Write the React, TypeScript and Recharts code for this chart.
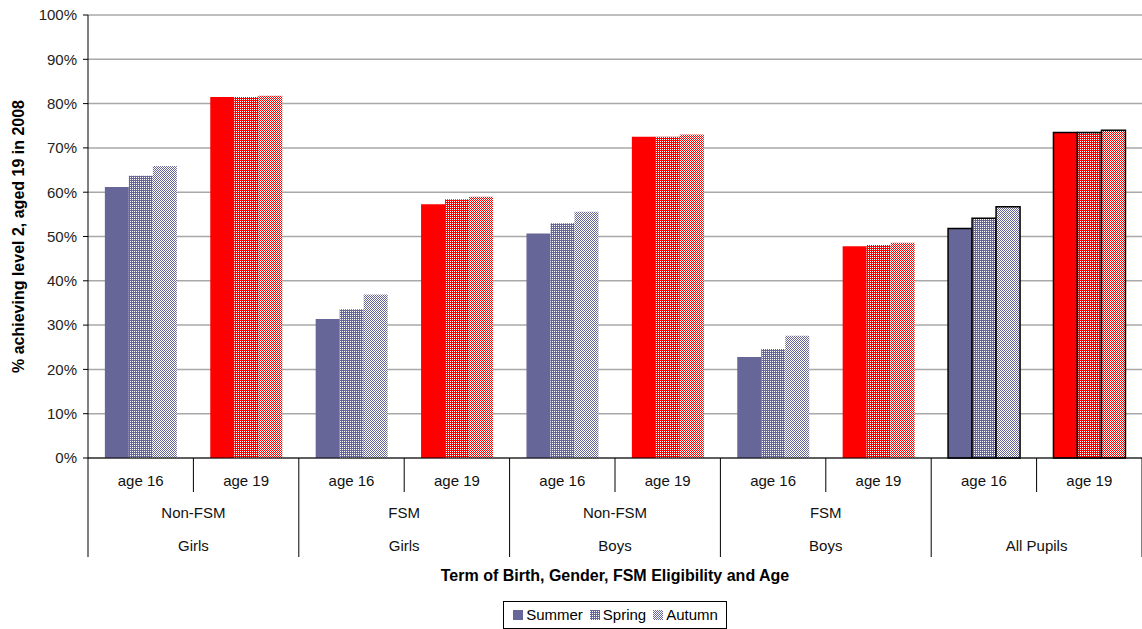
import React from "react";
import { Bar, BarChart, CartesianGrid, Cell, Legend, XAxis, YAxis } from "recharts";

const ages = ["age 16", "age 19", "age 16", "age 19", "age 16", "age 19", "age 16", "age 19", "age 16", "age 19"];
const fsm = ["Non-FSM", "Non-FSM", "FSM", "FSM", "Non-FSM", "Non-FSM", "FSM", "FSM", "", ""];
const gender = ["Girls", "Girls", "Girls", "Girls", "Boys", "Boys", "Boys", "Boys", "All Pupils", "All Pupils"];

const summer = [61.2, 81.5, 31.4, 57.3, 50.7, 72.5, 22.8, 47.8, 51.8, 73.5];
const spring = [63.7, 81.5, 33.6, 58.4, 53.0, 72.5, 24.6, 48.1, 54.1, 73.5];
const autumn = [65.9, 81.8, 36.9, 59.0, 55.6, 73.0, 27.6, 48.6, 56.7, 74.0];

const yTicks = [0, 10, 20, 30, 40, 50, 60, 70, 80, 90, 100];

const data = ages.map((a, i) => ({
  key: `${gender[i]}|${fsm[i]}|${a}`,
  summer: summer[i],
  spring: spring[i],
  autumn: autumn[i],
}));

const FONT = "'Liberation Sans', Arial, sans-serif";
const BLUE = "#666699";
const RED = "#ff0000";

// fill ids per series, [age16, age19]
const fills = {
  summer: [BLUE, RED],
  spring: ["url(#springBlue)", "url(#springRed)"],
  autumn: ["url(#autumnBlue)", "url(#autumnRed)"],
};

const GroupTick = (props: any) => {
  const { x, y, payload, index } = props;
  const half = payload && payload.offset ? payload.offset : 52.7;
  const odd = index % 2 === 1;
  return (
    <g>
      {index === 0 && <line x1={x - half} x2={x - half} y1={y} y2={y + 99} stroke="#000" />}
      <line x1={x + half} x2={x + half} y1={y} y2={y + (odd ? 99 : 34)} stroke="#000" />
      <text x={x} y={y + 28} textAnchor="middle" fontSize={15} fill="#111">
        {ages[index]}
      </text>
      {odd && (
        <>
          <text x={x - half} y={y + 60} textAnchor="middle" fontSize={15} fill="#111">
            {fsm[index]}
          </text>
          <text x={x - half} y={y + 93} textAnchor="middle" fontSize={15} fill="#111">
            {gender[index]}
          </text>
        </>
      )}
    </g>
  );
};

const Swatch = ({ fill }: { fill: string }) => (
  <svg width={10} height={10} style={{ marginRight: 3 }}>
    <rect x={0} y={0} width={10} height={10} fill={fill} />
  </svg>
);

const LegendBox = () => (
  <div style={{ display: "flex", justifyContent: "center", marginLeft: 88 }}>
    <div
      style={{
        display: "flex",
        alignItems: "center",
        border: "1px solid #000",
        padding: "3px 8px 3px 9px",
        fontSize: 15,
        fontFamily: FONT,
        color: "#000",
        lineHeight: "20px",
      }}
    >
      <Swatch fill={BLUE} />
      <span style={{ marginRight: 7 }}>Summer</span>
      <Swatch fill="url(#springBlue)" />
      <span style={{ marginRight: 7 }}>Spring</span>
      <Swatch fill="url(#autumnBlue)" />
      <span>Autumn</span>
    </div>
  </div>
);

const App = () => {
  return (
    <div style={{ position: "absolute", left: 0, top: 0, fontFamily: FONT, background: "#fff" }}>
      <BarChart
        width={1142}
        height={629}
        data={data}
        margin={{ top: 15, right: 0, left: 0, bottom: 0 }}
        barCategoryGap="16%"
        barGap={0}
      >
        <defs>
          <pattern id="springBlue" width="4" height="4" patternUnits="userSpaceOnUse">
            <rect width="4" height="4" fill={BLUE} />
            <rect x="0" y="1" width="1" height="1" fill="#fff" />
            <rect x="2" y="1" width="1" height="1" fill="#fff" />
            <rect x="0" y="3" width="1" height="1" fill="#fff" />
            <rect x="2" y="3" width="1" height="1" fill="#fff" />
          </pattern>
          <pattern id="springRed" width="4" height="4" patternUnits="userSpaceOnUse">
            <rect width="4" height="4" fill={RED} />
            <rect x="0" y="1" width="1" height="1" fill="#fff" />
            <rect x="2" y="1" width="1" height="1" fill="#fff" />
            <rect x="0" y="3" width="1" height="1" fill="#fff" />
            <rect x="2" y="3" width="1" height="1" fill="#fff" />
          </pattern>
          <pattern id="autumnBlue" width="2" height="2" patternUnits="userSpaceOnUse">
            <rect width="2" height="2" fill="#fff" />
            <rect x="0" y="0" width="1" height="1" fill={BLUE} />
            <rect x="1" y="1" width="1" height="1" fill={BLUE} />
          </pattern>
          <pattern id="autumnRed" width="2" height="2" patternUnits="userSpaceOnUse">
            <rect width="2" height="2" fill="#fff" />
            <rect x="0" y="0" width="1" height="1" fill={RED} />
            <rect x="1" y="1" width="1" height="1" fill={RED} />
          </pattern>
        </defs>
        <CartesianGrid vertical={false} stroke="#a8a8a8" strokeWidth={1.5} />
        <XAxis
          dataKey="key"
          interval={0}
          height={143}
          tickSize={0}
          tickMargin={0}
          stroke="#000"
          tick={<GroupTick />}
          label={{
            value: "Term of Birth, Gender, FSM Eligibility and Age",
            position: "insideBottom",
            offset: 20,
            style: { fontWeight: "bold", fontSize: 16, fill: "#000", fontFamily: FONT },
          }}
        />
        <YAxis
          width={88}
          domain={[0, 100]}
          ticks={yTicks}
          interval={0}
          tickFormatter={(v) => `${v}%`}
          tickSize={5}
          tickMargin={6}
          stroke="#000"
          tick={{ fill: "#222", fontSize: 15, fontFamily: FONT }}
          label={{
            value: "% achieving level 2, aged 19 in 2008",
            angle: -90,
            position: "insideLeft",
            offset: 18,
            style: { textAnchor: "middle", fontWeight: "bold", fontSize: 16, fill: "#000", fontFamily: FONT },
          }}
        />
        <Legend verticalAlign="bottom" content={<LegendBox />} />
        {(["summer", "spring", "autumn"] as const).map((s) => (
          <Bar key={s} dataKey={s} isAnimationActive={false}>
            {data.map((d, i) => (
              <Cell
                key={d.key}
                fill={fills[s][i % 2]}
                stroke={i >= 8 ? "#000" : "none"}
                strokeWidth={i >= 8 ? 1.5 : 0}
              />
            ))}
          </Bar>
        ))}
      </BarChart>
    </div>
  );
};

export default App;
